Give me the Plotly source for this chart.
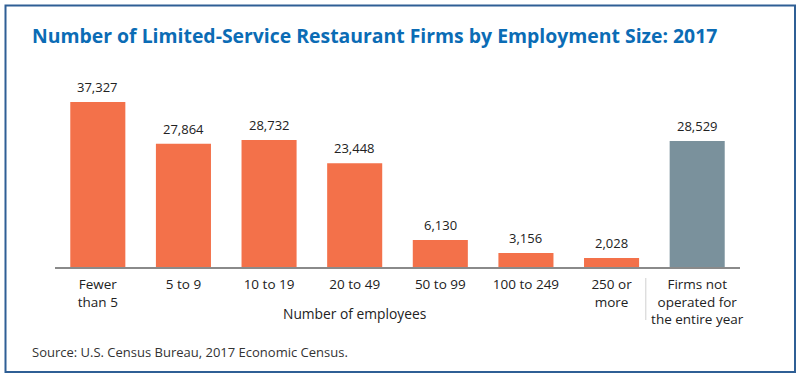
import plotly.graph_objects as go

categories = ["Fewer<br>than 5", "5 to 9", "10 to 19", "20 to 49", "50 to 99",
              "100 to 249", "250 or<br>more", "Firms not<br>operated for<br>the entire year"]
values = [37327, 27864, 28732, 23448, 6130, 3156, 2028, 28529]
colors = ["#F3714A"] * 7 + ["#7A919C"]

W, H = 800, 377
L, R, T, B = 55, 60, 81, 110
ph = H - T - B
pw = W - L - R

def px_x(p):
    return (p - L) / pw

def px_y(p):
    return (H - B - p) / ph

xs = list(range(len(values)))

fig = go.Figure()
fig.add_trace(go.Bar(
    x=xs, y=values,
    marker=dict(color=colors, line=dict(width=0)),
    cliponaxis=False, hoverinfo="skip",
))

for xi, v in zip(xs, values):
    fig.add_annotation(x=xi, y=v, text=f"{v:,}", showarrow=False,
                       xanchor="center", yanchor="middle", yshift=15,
                       font=dict(size=13, color="#222222", family="Open Sans"))

fig.update_layout(
    width=W, height=H,
    margin=dict(l=L, r=R, t=T, b=B, autoexpand=False),
    paper_bgcolor="white", plot_bgcolor="white",
    bargap=0.357, showlegend=False,
    font=dict(family="Open Sans", color="#222222"),
    xaxis=dict(tickmode="array", tickvals=xs, ticktext=categories,
               range=[-0.5, 7.5], showline=True, linecolor="#8a8a8a", linewidth=1.5,
               ticks="", tickfont=dict(size=13.5, color="#222222"), showgrid=False,
               ticklabelstandoff=4,
               zeroline=False, automargin=False, fixedrange=True),
    yaxis=dict(range=[0, 37327 * ph / 165], visible=False, showgrid=False,
               zeroline=False, automargin=False, fixedrange=True),
)

fig.add_annotation(text="<b>Number of Limited-Service Restaurant Firms by Employment Size: 2017</b>",
                   xref="paper", yref="paper", x=px_x(30), y=px_y(35),
                   xanchor="left", yanchor="middle", showarrow=False,
                   font=dict(size=19.4, color="#0B6CB5", family="Open Sans"))
fig.add_annotation(text="Number of employees", xref="x", yref="paper", x=3, y=px_y(313),
                   xanchor="center", yanchor="middle", showarrow=False,
                   font=dict(size=13.8, color="#222222"))
fig.add_annotation(text="Source: U.S. Census Bureau, 2017 Economic Census.",
                   xref="paper", yref="paper", x=px_x(30), y=px_y(352),
                   xanchor="left", yanchor="middle", showarrow=False,
                   font=dict(size=13, color="#333333"))

fig.add_shape(type="line", xref="x", yref="paper", x0=6.4, x1=6.4,
              y0=px_y(278), y1=px_y(320), line=dict(color="#d0d0d0", width=1))
fig.add_shape(type="rect", xref="paper", yref="paper",
              x0=px_x(5.5), x1=px_x(795), y0=px_y(372), y1=px_y(5.5),
              line=dict(color="#2F5F95", width=2), layer="below")

fig.write_html("out.html", config={"displayModeBar": False},
               post_script="document.body.style.margin='0';document.body.style.overflow='hidden';")
